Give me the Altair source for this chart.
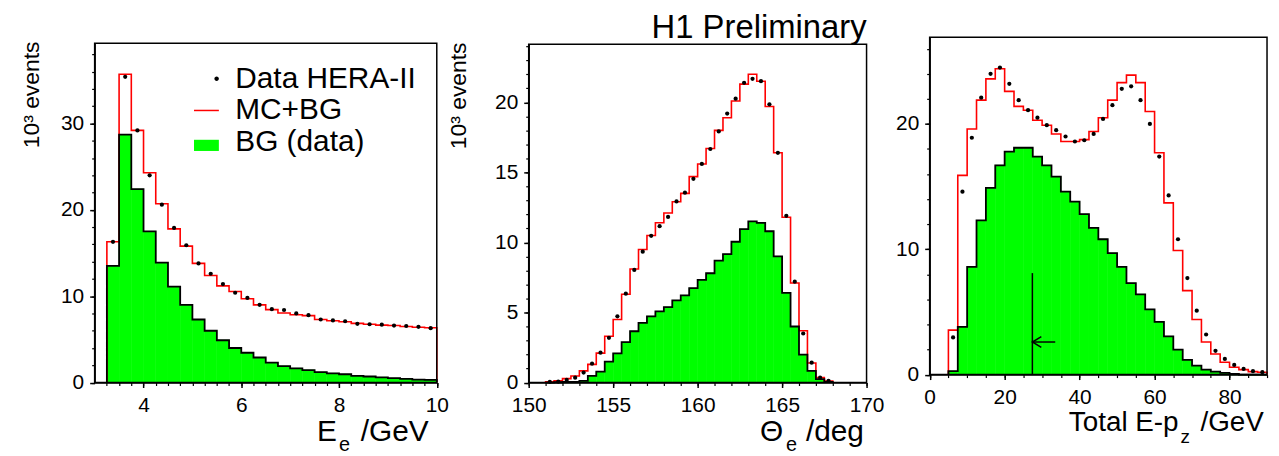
import altair as alt
import numpy as np
import pandas as pd

# ---------------- data (10^3 events) ----------------
# Panel 1: E_e, bins of 0.25 GeV starting at 3.25 GeV
ee_start, ee_width = 3.25, 0.25
ee_mc = [16.3, 35.7, 29.2, 24.3, 20.7, 17.8, 15.8, 13.8, 12.4, 11.2, 10.55, 9.7, 9.0, 8.45,
         8.05, 7.85, 7.75, 7.3, 7.15, 7.05, 6.85, 6.75, 6.65, 6.6, 6.5, 6.4, 6.35]
ee_data = [16.3, 35.4, 29.2, 24.0, 20.6, 17.9, 15.9, 13.8, 12.6, 11.4, 10.4, 9.8, 9.0, 8.5,
           8.4, 8.0, 7.8, 7.3, 7.2, 7.1, 6.8, 6.75, 6.7, 6.6, 6.55, 6.45, 6.3]
ee_bg = [13.5, 28.7, 22.4, 17.5, 13.9, 11.1, 9.0, 7.3, 6.0, 4.9, 4.0, 3.45, 2.9, 2.3,
         1.9, 1.65, 1.45, 1.2, 1.07, 0.96, 0.77, 0.7, 0.6, 0.5, 0.42, 0.35, 0.3]

# Panel 2: Theta_e, bins of 0.5 deg starting at 151 deg
th_start, th_width = 151.0, 0.5
th_mc = [0.05, 0.12, 0.28, 0.47, 0.83, 1.3, 2.1, 3.3, 4.5, 6.3, 8.1, 9.5, 10.5, 11.4, 12.1,
         12.9, 13.5, 14.7, 15.6, 16.7, 18.0, 18.9, 20.1, 21.3, 22.0, 21.5, 19.7, 16.4, 11.8,
         7.1, 3.7, 1.4, 0.35, 0.1]
th_data = [0.05, 0.07, 0.19, 0.35, 0.71, 1.35, 2.13, 3.19, 4.73, 6.34, 8.04, 9.34, 10.47,
           11.16, 11.82, 12.93, 13.55, 14.54, 15.6, 16.67, 17.92, 19.2, 20.26, 21.39, 21.68,
           21.51, 19.86, 16.4, 11.9, 7.2, 3.5, 1.42, 0.35, 0.12]
th_bg = [0.0, 0.02, 0.05, 0.05, 0.12, 0.47, 0.78, 1.49, 2.08, 2.88, 3.66, 4.26, 4.73, 5.08,
         5.39, 5.86, 6.22, 6.74, 7.33, 7.8, 8.7, 9.17, 10.05, 10.95, 11.5, 11.4, 10.8, 9.0,
         6.4, 4.0, 2.0, 0.83, 0.24, 0.05]

# Panel 3: Total E-pz, bins of 2.5 GeV starting at 5 GeV
ep_start, ep_width = 5.0, 2.5
ep_mc = [3.55, 15.9, 19.6, 21.9, 23.6, 24.4, 22.6, 21.4, 21.1, 20.3, 19.9, 19.2, 18.6, 18.6,
         18.75, 19.4, 20.5, 21.9, 23.3, 23.9, 23.3, 21.0, 17.7, 13.7, 9.9, 6.7, 4.4, 2.6,
         1.64, 0.98, 0.58, 0.4, 0.24, 0.19]
ep_data = [2.97, 14.6, 18.9, 22.1, 24.0, 24.5, 23.2, 21.9, 21.1, 20.5, 19.9, 19.5, 19.0,
           18.6, 18.7, 19.2, 20.4, 21.5, 22.8, 23.0, 21.9, 20.0, 17.4, 14.3, 10.8, 7.7, 5.1,
           3.2, 1.9, 1.25, 0.77, 0.45, 0.27, 0.19]
ep_bg = [0.27, 3.8, 8.6, 12.3, 14.9, 16.7, 17.8, 18.1, 18.1, 17.4, 16.7, 15.8, 14.6, 13.8,
         12.8, 11.7, 10.8, 9.7, 8.6, 7.3, 6.4, 5.2, 4.2, 3.05, 2.0, 1.17, 0.72, 0.4, 0.24,
         0.13, 0.05, 0.0, 0.0, 0.0]

# cut indicator in the E-pz panel
cut_x = [27.4]
cut_top = [8.1]
arrow_y = [2.6]
arrow_tail = [33.5]

legend_labels = ["Data HERA-II", "MC+BG", "BG (data)"]

# axis domains and tick values
ee_dom, ee_ydom = [3, 10], [0, 39.3]
th_dom, th_ydom = [150, 170], [0, 24.15]
ep_dom, ep_ydom = [0, 90], [0, 26.92]
ee_xt, ee_yt = [4, 6, 8, 10], [0, 10, 20, 30]
th_xt, th_yt = [150, 155, 160, 165, 170], [0, 5, 10, 15, 20]
ep_xt, ep_yt = [0, 20, 40, 60, 80], [0, 10, 20]

# ---------------- layout (pixels inside the view) ----------------
W, H = 1271, 448
GREEN = "#00ff00"
FONT = "Liberation Sans"


def bins_df(start, width, vals):
    lo = start + width * np.arange(len(vals))
    return pd.DataFrame({"lo": lo, "hi": lo + width, "mid": lo + width / 2,
                         "v": vals, "zero": 0.0})


def step_df(start, width, vals):
    edges = start + width * np.arange(len(vals) + 1)
    xs, ys = [edges[0]], [0.0]
    for i, v in enumerate(vals):
        xs += [edges[i], edges[i + 1]]
        ys += [v, v]
    xs.append(edges[-1])
    ys.append(0.0)
    return pd.DataFrame({"x": xs, "y": ys, "i": range(len(xs))})


common = dict(domainColor="black", domainWidth=1.5, tickColor="black", tickWidth=1.5,
              labelFont=FONT, labelFontSize=21, labelColor="black", grid=False,
              labelFlush=False, labelOverlap=False, tickSize=5, title=None)


def x_axis(vals, bottom):
    return alt.Axis(orient="bottom", offset=bottom - H, values=vals, labelPadding=7,
                    format="d", **common)


def y_axis(vals, left):
    return alt.Axis(orient="left", offset=-left, values=vals, labelPadding=6, format="d",
                    **common)


def minor_axes(xvals, yvals, bottom, left):
    ax = alt.Axis(orient="bottom", offset=bottom - H, values=xvals, labels=False,
                  domain=False, tickSize=3, tickWidth=1.2, tickColor="black",
                  grid=False, title=None)
    ay = alt.Axis(orient="left", offset=-left, values=yvals, labels=False,
                  domain=False, tickSize=3, tickWidth=1.2, tickColor="black",
                  grid=False, title=None)
    return ax, ay


def panel(start, width, mc, data, bg, xdom, ydom, xr, yr, xa, ya, minor):
    sx = alt.Scale(domain=xdom, range=xr, nice=False, zero=False)
    sy = alt.Scale(domain=ydom, range=yr, nice=False, zero=False)
    b = bins_df(start, width, bg)
    d = bins_df(start, width, data)
    green = alt.Chart(b).mark_rect(color=GREEN, stroke=GREEN, strokeWidth=0.6).encode(
        x=alt.X("lo:Q", scale=sx, axis=xa), x2="hi:Q",
        y=alt.Y("zero:Q", scale=sy, axis=ya), y2="v:Q")
    red = alt.Chart(step_df(start, width, mc)).mark_line(color="red", strokeWidth=1.6).encode(
        x=alt.X("x:Q", scale=sx, axis=xa), y=alt.Y("y:Q", scale=sy, axis=ya),
        order="i:Q")
    black = alt.Chart(step_df(start, width, bg)).mark_line(color="black", strokeWidth=1.8).encode(
        x=alt.X("x:Q", scale=sx, axis=xa), y=alt.Y("y:Q", scale=sy, axis=ya),
        order="i:Q")
    pts = alt.Chart(d).mark_circle(size=18, color="black", opacity=1).encode(
        x=alt.X("mid:Q", scale=sx, axis=xa), y=alt.Y("v:Q", scale=sy, axis=ya))
    layers = [green, red, black, pts]
    frame_scale_x = alt.Scale(domain=xdom, range=xr, nice=False, zero=False)
    frame_scale_y = alt.Scale(domain=ydom, range=yr, nice=False, zero=False)
    fdf = pd.DataFrame({"x0": [xdom[0]], "x1": [xdom[1]], "y0": [ydom[0]], "y1": [ydom[1]]})
    frame = alt.Chart(fdf).mark_rect(fillOpacity=0, stroke="black", strokeWidth=1.5).encode(
        x=alt.X("x0:Q", scale=frame_scale_x, axis=minor[0]), x2="x1:Q",
        y=alt.Y("y0:Q", scale=frame_scale_y, axis=minor[1]), y2="y1:Q")
    return alt.layer(*layers), frame, sx, sy, xa, ya


# panel pixel ranges
p1x, p1y = [87.2, 431.5], [375.5, 34]
p2x, p2y = [524, 864], [375.5, 35]
p3x, p3y = [927.5, 1267], [367.5, 28]

P1, F1, _, _, _, _ = panel(
    ee_start, ee_width, ee_mc, ee_data, ee_bg, ee_dom, ee_ydom, p1x, p1y,
    x_axis(ee_xt, p1y[0]), y_axis(ee_yt, p1x[0]),
    minor_axes([float(v) for v in np.arange(3.25, 10.001, 0.25)],
               [float(v) for v in np.arange(0, 39.3, 2)], p1y[0], p1x[0]))

P2, F2, _, _, _, _ = panel(
    th_start, th_width, th_mc, th_data, th_bg, th_dom, th_ydom, p2x, p2y,
    x_axis(th_xt, p2y[0]), y_axis(th_yt, p2x[0]),
    minor_axes([float(v) for v in np.arange(150, 170.01, 1)],
               [float(v) for v in np.arange(0, 24.15, 1)], p2y[0], p2x[0]))

P3, F3, sx3, sy3, xa3, ya3 = panel(
    ep_start, ep_width, ep_mc, ep_data, ep_bg, ep_dom, ep_ydom, p3x, p3y,
    x_axis(ep_xt, p3y[0]), y_axis(ep_yt, p3x[0]),
    minor_axes([float(v) for v in np.arange(0, 90.01, 5)],
               [float(v) for v in np.arange(0, 26.9, 2)], p3y[0], p3x[0]))

# cut arrow in panel 3 (shares panel-3 scales)
cut_df = pd.DataFrame({"x": cut_x, "top": cut_top, "ay": arrow_y, "tail": arrow_tail,
                       "zero": [0.0]})
cut_v = alt.Chart(cut_df).mark_rule(color="black", strokeWidth=1.5).encode(
    x=alt.X("x:Q", scale=sx3, axis=xa3), y=alt.Y("zero:Q", scale=sy3, axis=ya3), y2="top:Q")
cut_h = alt.Chart(cut_df).mark_rule(color="black", strokeWidth=1.5).encode(
    x=alt.X("x:Q", scale=sx3, axis=xa3), x2="tail:Q", y=alt.Y("ay:Q", scale=sy3, axis=ya3))
cut_head = alt.Chart(cut_df).mark_point(shape="M2,-1.2L0,0L2,1.2", filled=False, size=81,
                                        color="black", strokeWidth=1.5, opacity=1).encode(
    x=alt.X("x:Q", scale=sx3, axis=xa3), y=alt.Y("ay:Q", scale=sy3, axis=ya3))
P3 = alt.layer(P3, cut_v, cut_h, cut_head)

# legend (in panel 1)
leg_df = pd.DataFrame({"series": pd.Series([], dtype="object")})
leg = alt.Legend(orient="none", legendX=184.7, legendY=54.7, title=None, labelFont=FONT,
                 labelFontSize=30, labelColor="black", labelLimit=400, symbolSize=625,
                 symbolStrokeWidth=0, labelOffset=14, rowPadding=2, padding=0)
shapes = ["M1.0,0A0.18,0.18,0,1,1,0.64,0A0.18,0.18,0,1,1,1.0,0Z",
          "M-1,-0.06L1,-0.06L1,0.06L-1,0.06Z",
          "M-1,-0.2L1,-0.2L1,0.7L-1,0.7Z"]
legend_layer = alt.Chart(leg_df).mark_point(filled=True, size=625, opacity=1).encode(
    color=alt.Color("series:N", scale=alt.Scale(domain=legend_labels,
                                                range=["black", "red", GREEN]), legend=leg),
    shape=alt.Shape("series:N", scale=alt.Scale(domain=legend_labels, range=shapes), legend=leg))

# text annotations (title, axis titles with sub/superscripts)
one = pd.DataFrame({"a": [0]})


def label(text, x, y, size, align="left", angle=0, baseline="alphabetic"):
    return alt.Chart(one).mark_text(text=text, font=FONT, fontSize=size, color="black",
                                    align=align, baseline=baseline, angle=angle).encode(
        x=alt.value(x), y=alt.value(y))


texts = [
    label("H1 Preliminary", 864, 29, 33, "right"),
    label("10³ events", 24, 86, 23, "center", 270, "middle"),
    label("10³ events", 454, 87, 23, "center", 270, "middle"),
    label("E", 331, 434, 30, "right"), label("e", 333, 444, 20), label("/GeV", 355, 434, 30),
    label("Θ", 780, 434, 30, "right"), label("e", 783, 444, 20), label("/deg", 803, 434, 30),
    label("Total E-p", 1178, 424, 28, "right"), label("z", 1180, 436, 19),
    label("/GeV", 1200, 424, 28),
]

chart = alt.layer(P1, F1, P2, F2, P3, F3, legend_layer, *texts).resolve_scale(
    x="independent", y="independent"
).properties(
    width=W, height=H, padding=0, autosize=alt.AutoSizeParams(type="none")
).configure_view(stroke=None)

chart.save("out.html", embed_options={"renderer": "svg", "actions": False})
